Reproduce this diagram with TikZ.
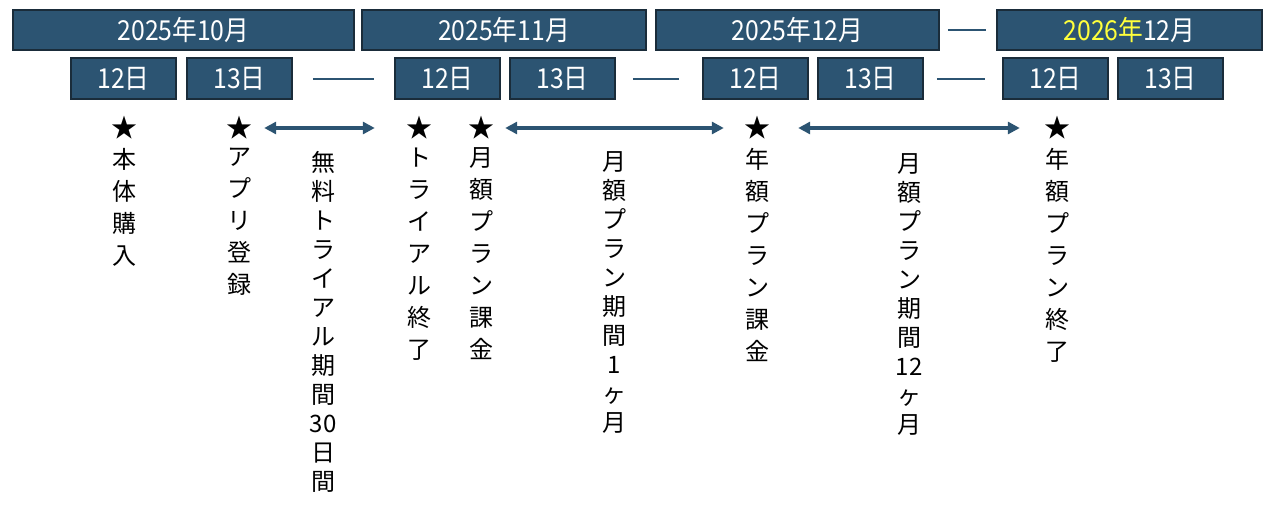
\documentclass[tikz,border=0pt]{standalone}
\usepackage{fontspec}
\setmainfont{Noto Sans CJK JP}
\newfontfamily\boxfont[FakeStretch=0.9]{Noto Sans CJK JP}
\usetikzlibrary{positioning}
\usetikzlibrary{arrows.meta}
\definecolor{boxblue}{RGB}{44,84,114}
\definecolor{boxline}{RGB}{26,44,58}
\definecolor{yeartext}{RGB}{255,255,60}

\begin{document}
\begin{tikzpicture}[x=1pt,y=-1pt,
    month/.style={draw=boxline,line width=1.8pt,fill=boxblue,text=white,minimum height=40pt,inner sep=0pt,font=\boxfont\fontsize{27.5}{27.5}\selectfont},
    day/.style={month,minimum width=105pt,minimum height=41pt},
    link/.style={draw=boxblue,line width=2pt},
    span/.style={boxblue,line width=4pt,{Triangle[width=12pt,length=12pt]}-{Triangle[width=12pt,length=12pt]}},
    starmark/.style={inner sep=0pt,font=\fontsize{26}{26}\selectfont},
    event/.style={anchor=north,align=center,inner sep=0pt,font=\fontsize{24}{32}\selectfont},
    period/.style={event,font=\fontsize{24}{29}\selectfont}]
    \useasboundingbox (0,0) rectangle (1274,506);

    % months
    \node[month,minimum width=341pt] (m1) at (183.5,30) {2025年10月};
    \node[month,minimum width=284pt] (m2) at (504,30) {2025年11月};
    \node[month,minimum width=283pt] (m3) at (797.5,30) {2025年12月};
    \node[month,minimum width=265pt] (m4) at (1129.5,30) {{\color{yeartext}2026年}12月};
    \draw[link,shorten <=8pt,shorten >=10pt] (m3.east) -- (m4.west);

    % days
    \node[day] (d1) at (123.5,78.5) {12日};
    \node[day] (d2) at (239.5,78.5) {13日};
    \node[day] (d3) at (447.5,78.5) {12日};
    \node[day] (d4) at (562.5,78.5) {13日};
    \node[day] (d5) at (755.5,78.5) {12日};
    \node[day] (d6) at (870.5,78.5) {13日};
    \node[day] (d7) at (1055.5,78.5) {12日};
    \node[day] (d8) at (1170.5,78.5) {13日};
    \draw[link,shorten <=20pt,shorten >=20pt] (d2.east) -- (d3.west);
    \draw[link,shorten <=17pt,shorten >=23pt] (d4.east) -- (d5.west);
    \draw[link,shorten <=13pt,shorten >=17pt] (d6.east) -- (d7.west);

    % events
    \node[starmark] (s1) at (124,128) {★};
    \node[starmark] (s2) at (239,128) {★};
    \node[starmark] (s3) at (419,128) {★};
    \node[starmark] (s4) at (481,128) {★};
    \node[starmark] (s5) at (757,128) {★};
    \node[starmark] (s6) at (1057,128) {★};

    \node[event,below=8pt of s1] (buy) {本\\体\\購\\入};
    \node[event,below=8pt of s2] (app) {ア\\プ\\リ\\登\\録};
    \node[event,below=8pt of s3] (trialend) {ト\\ラ\\イ\\ア\\ル\\終\\了};
    \node[event,below=8pt of s4] (monthly) {月\\額\\プ\\ラ\\ン\\課\\金};
    \node[event,below=8pt of s5] (yearly) {年\\額\\プ\\ラ\\ン\\課\\金};
    \node[event,below=8pt of s6] (yearend) {年\\額\\プ\\ラ\\ン\\終\\了};

    % periods
    \draw[span,shorten <=12pt,shorten >=31pt] (s2.east) -- (s3.west);
    \draw[span,shorten <=11pt,shorten >=20pt] (s4.east) -- (s5.west);
    \draw[span,shorten <=28pt,shorten >=24pt] (s5.east) -- (s6.west);
    \node[period] (trial) at (323,151) {無\\料\\ト\\ラ\\イ\\ア\\ル\\期\\間\\30\\日\\間};
    \node[period] (onemonth) at (614,151) {月\\額\\プ\\ラ\\ン\\期\\間\\1\\ヶ\\月};
    \node[period] (twelvemonth) at (909,153) {月\\額\\プ\\ラ\\ン\\期\\間\\12\\ヶ\\月};
\end{tikzpicture}
\end{document}
